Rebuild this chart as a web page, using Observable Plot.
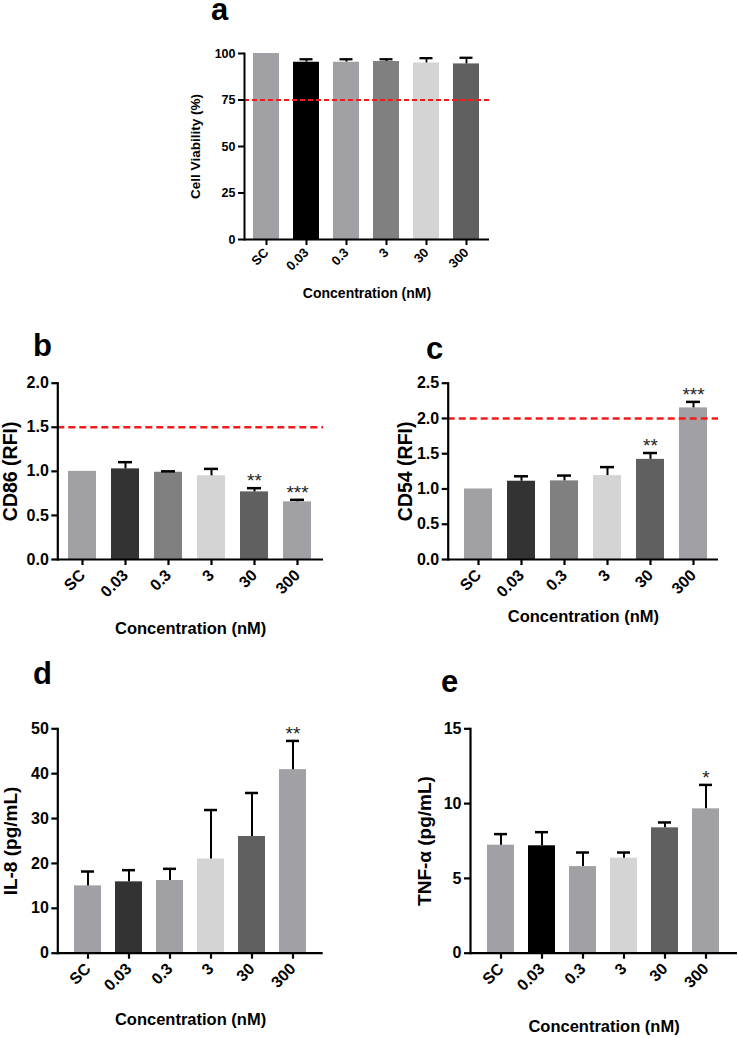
<!DOCTYPE html>
<html>
<head>
<meta charset="utf-8">
<script src="https://cdn.jsdelivr.net/npm/d3@7"></script>
<script src="https://cdn.jsdelivr.net/npm/@observablehq/plot@0.6"></script>
<style>
  body { margin: 0; background: #fff; }
  #root { position: relative; width: 738px; height: 1038px; overflow: hidden; font-family: "Liberation Sans", Arial, sans-serif; }
  .panel { position: absolute; }
  .letter { position: absolute; font-weight: bold; font-size: 31px; line-height: 0.6; color: #000; }
  g[aria-label="stars"] text { letter-spacing: 1.5px; }
</style>
</head>
<body>
<div id="root"></div>
<script>
// ---------- data ----------
const categories = ["SC", "0.03", "0.3", "3", "30", "300"];

const viabilityMean = [100, 95.3, 95.3, 95.7, 94.9, 94.4];
const viabilityErr  = [0, 1.6, 1.6, 1.2, 2.6, 3.3];

const cd86Mean = [1.0, 1.028, 0.99, 0.949, 0.767, 0.654];
const cd86Err  = [0, 0.076, 0.01, 0.079, 0.042, 0.023];
const cd86Sig  = ["", "", "", "", "**", "***"];

const cd54Mean = [1.0, 1.11, 1.115, 1.19, 1.42, 2.15];
const cd54Err  = [0, 0.07, 0.075, 0.12, 0.09, 0.085];
const cd54Sig  = ["", "", "", "", "**", "***"];

const il8Mean = [15.0, 15.9, 16.2, 21.0, 26.0, 40.9];
const il8Err  = [3.2, 2.6, 2.6, 10.9, 9.7, 6.4];
const il8Sig  = ["", "", "", "", "", "**"];

const tnfMean = [7.22, 7.18, 5.79, 6.35, 8.38, 9.65];
const tnfErr  = [0.74, 0.91, 0.94, 0.38, 0.36, 1.6];
const tnfSig  = ["", "", "", "", "", "*"];

const viabilityThreshold = 75;
const cd86Threshold = 1.5;
const cd54Threshold = 2.0;

const viabilityTicks = [0, 25, 50, 75, 100];
const cd86Ticks = [0, 0.5, 1.0, 1.5, 2.0];
const cd54Ticks = [0, 0.5, 1.0, 1.5, 2.0, 2.5];
const il8Ticks = [0, 10, 20, 30, 40, 50];
const tnfTicks = [0, 5, 10, 15];

const xTitle = "Concentration (nM)";

// ---------- styles ----------
const colorsA = ["#a1a1a5", "#000000", "#a1a1a5", "#808080", "#d4d4d4", "#606060"];
const colorsBC = ["#a1a1a5", "#333333", "#808080", "#d4d4d4", "#606060", "#a1a1a5"];
const colorsD = ["#a1a1a5", "#333333", "#a1a1a5", "#d4d4d4", "#606060", "#a1a1a5"];
const colorsE = ["#a1a1a5", "#000000", "#a1a1a5", "#d4d4d4", "#606060", "#a1a1a5"];

const FONT = "'Liberation Sans', Arial, Helvetica, sans-serif";

function makePanel(cfg) {
  const data = categories.map((c, i) => ({
    cat: c,
    mean: cfg.means[i],
    hi: cfg.means[i] + cfg.errs[i],
    err: cfg.errs[i],
    star: cfg.stars ? cfg.stars[i] : "",
    color: cfg.colors[i]
  }));
  const withErr = data.filter(d => d.err > 0);
  const marks = [
    Plot.barY(data, {x: "cat", y: "mean", fill: "color"}),
    Plot.ruleX(withErr, {x: "cat", y1: "mean", y2: "hi", stroke: "#000", strokeWidth: cfg.errW}),
    Plot.tickY(withErr, {x: "cat", y: "hi", stroke: "#000", strokeWidth: cfg.errW + 0.5, insetLeft: cfg.capInset, insetRight: cfg.capInset})
  ];
  if (cfg.threshold != null) {
    marks.push(Plot.ruleY([cfg.threshold], {stroke: "#f01c1c", strokeWidth: cfg.dashW, strokeDasharray: cfg.dash}));
  }
  if (cfg.stars) {
    marks.push(Plot.text(data.filter(d => d.star), {
      x: "cat", y: "hi", text: "star", lineAnchor: "bottom", dy: cfg.starDy,
      fontSize: cfg.starSize, fontWeight: "normal", fill: "#222", ariaLabel: "stars"
    }));
  }
  marks.push(Plot.ruleY([0], {stroke: "#000", strokeWidth: cfg.axisW}));
  marks.push(Plot.frame({anchor: "left", stroke: "#000", strokeWidth: cfg.axisW}));
  marks.push(Plot.axisY({
    ticks: cfg.ticks, tickFormat: cfg.format, tickSize: 6, tickPadding: 3,
    stroke: "#000", strokeWidth: cfg.axisW, fill: "#000",
    fontSize: cfg.tickSize, fontWeight: "bold", label: null
  }));
  marks.push(Plot.axisX({
    tickRotate: -45, tickSize: 6, tickPadding: cfg.xPad,
    stroke: "#000", strokeWidth: cfg.axisW, fill: "#000",
    fontSize: cfg.xTickSize, fontWeight: "bold", label: null
  }));
  // axis titles
  marks.push(Plot.text([cfg.yLabel], {
    text: d => d, frameAnchor: "left", rotate: -90, textAnchor: "middle", lineAnchor: "middle",
    dx: -cfg.yLabelOffset, fontSize: cfg.yTitleSize, fontWeight: "bold", fill: "#000", ariaLabel: "y-title"
  }));
  marks.push(Plot.text([xTitle], {
    text: d => d, frameAnchor: "bottom", textAnchor: "middle", lineAnchor: "middle",
    dy: cfg.xLabelOffset, fontSize: cfg.xTitleSize, fontWeight: "bold", fill: "#000", ariaLabel: "x-title"
  }));
  const plot = Plot.plot({
    width: cfg.width, height: cfg.height,
    marginLeft: cfg.ml, marginRight: cfg.mr, marginTop: cfg.mt, marginBottom: cfg.mb,
    style: {fontFamily: FONT, fontWeight: "bold", background: "transparent", overflow: "visible", color: "#000"},
    x: {domain: categories, paddingInner: 0.34, paddingOuter: cfg.po, align: cfg.align ?? 0.5},
    y: {domain: cfg.yDomain},
    marks
  });
  plot.classList.add("panel");
  plot.style.left = cfg.left + "px";
  plot.style.top = cfg.top + "px";
  plot.style.maxWidth = "none";
  return plot;
}

const root = document.getElementById("root");

root.appendChild(makePanel({
  means: viabilityMean, errs: viabilityErr, colors: colorsA,
  threshold: viabilityThreshold, dash: "5,3", dashW: 2,
  ticks: viabilityTicks, format: d3.format("d"), yDomain: [0, 100],
  yLabel: "Cell Viability (%)", yLabelOffset: 49, xLabelOffset: 54,
  tickSize: 12.5, xTickSize: 13, yTitleSize: 13.5, xTitleSize: 14, axisW: 2, errW: 1.8, capInset: 6.5,
  xPad: 5,
  po: 0.187, left: 140, top: 30, width: 370, height: 290, ml: 104, mr: 21, mt: 23, mb: 81
}));

root.appendChild(makePanel({
  means: cd86Mean, errs: cd86Err, stars: cd86Sig, colors: colorsBC,
  threshold: cd86Threshold, dash: "7,4", dashW: 2.5,
  ticks: cd86Ticks, format: d3.format(".1f"), yDomain: [0, 2],
  yLabel: "CD86 (RFI)", yLabelOffset: 47, xLabelOffset: 69,
  tickSize: 16, xTickSize: 16, yTitleSize: 19.5, xTitleSize: 16.5, axisW: 2.2, errW: 2, capInset: 7,
  starSize: 19, starDy: -1, xPad: 7,
  po: 0.19, left: 0, top: 360, width: 340, height: 290, ml: 57.3, mr: 17, mt: 22.7, mb: 91
}));

root.appendChild(makePanel({
  means: cd54Mean, errs: cd54Err, stars: cd54Sig, colors: colorsBC,
  threshold: cd54Threshold, dash: "7,4", dashW: 2.5,
  ticks: cd54Ticks, format: d3.format(".1f"), yDomain: [0, 2.5],
  yLabel: "CD54 (RFI)", yLabelOffset: 42, xLabelOffset: 57,
  tickSize: 16, xTickSize: 16, yTitleSize: 19.5, xTitleSize: 16.5, axisW: 2.2, errW: 2, capInset: 7,
  starSize: 19, starDy: -1, xPad: 7,
  po: 0.249, align: 0.6, left: 380, top: 360, width: 358, height: 290, ml: 67.7, mr: 20, mt: 22.7, mb: 91
}));

root.appendChild(makePanel({
  means: il8Mean, errs: il8Err, stars: il8Sig, colors: colorsD,
  threshold: null,
  ticks: il8Ticks, format: d3.format("d"), yDomain: [0, 50],
  yLabel: "IL-8 (pg/mL)", yLabelOffset: 47, xLabelOffset: 67,
  tickSize: 16, xTickSize: 16, yTitleSize: 19, xTitleSize: 16.5, axisW: 2.2, errW: 2, capInset: 7,
  starSize: 19, starDy: -1, xPad: 7,
  po: 0.345, left: 0, top: 700, width: 340, height: 338, ml: 57.3, mr: 17.3, mt: 28.3, mb: 85.3
}));

root.appendChild(makePanel({
  means: tnfMean, errs: tnfErr, stars: tnfSig, colors: colorsE,
  threshold: null,
  ticks: tnfTicks, format: d3.format("d"), yDomain: [0, 15],
  yLabel: "TNF-α (pg/mL)", yLabelOffset: 45.5, xLabelOffset: 74,
  tickSize: 16, xTickSize: 16, yTitleSize: 19, xTitleSize: 16.5, axisW: 2.2, errW: 2, capInset: 7,
  starSize: 19, starDy: -1, xPad: 7,
  po: 0.364, left: 380, top: 700, width: 358, height: 338, ml: 90, mr: 1, mt: 28.3, mb: 85.3
}));

// panel letters
const letters = [
  {t: "a", left: 211, top: 1},
  {t: "b", left: 33, top: 337},
  {t: "c", left: 426, top: 340},
  {t: "d", left: 33, top: 665},
  {t: "e", left: 441, top: 673}
];
for (const l of letters) {
  const el = document.createElement("div");
  el.className = "letter";
  el.textContent = l.t;
  el.style.left = l.left + "px";
  el.style.top = l.top + "px";
  root.appendChild(el);
}
</script>
</body>
</html>
